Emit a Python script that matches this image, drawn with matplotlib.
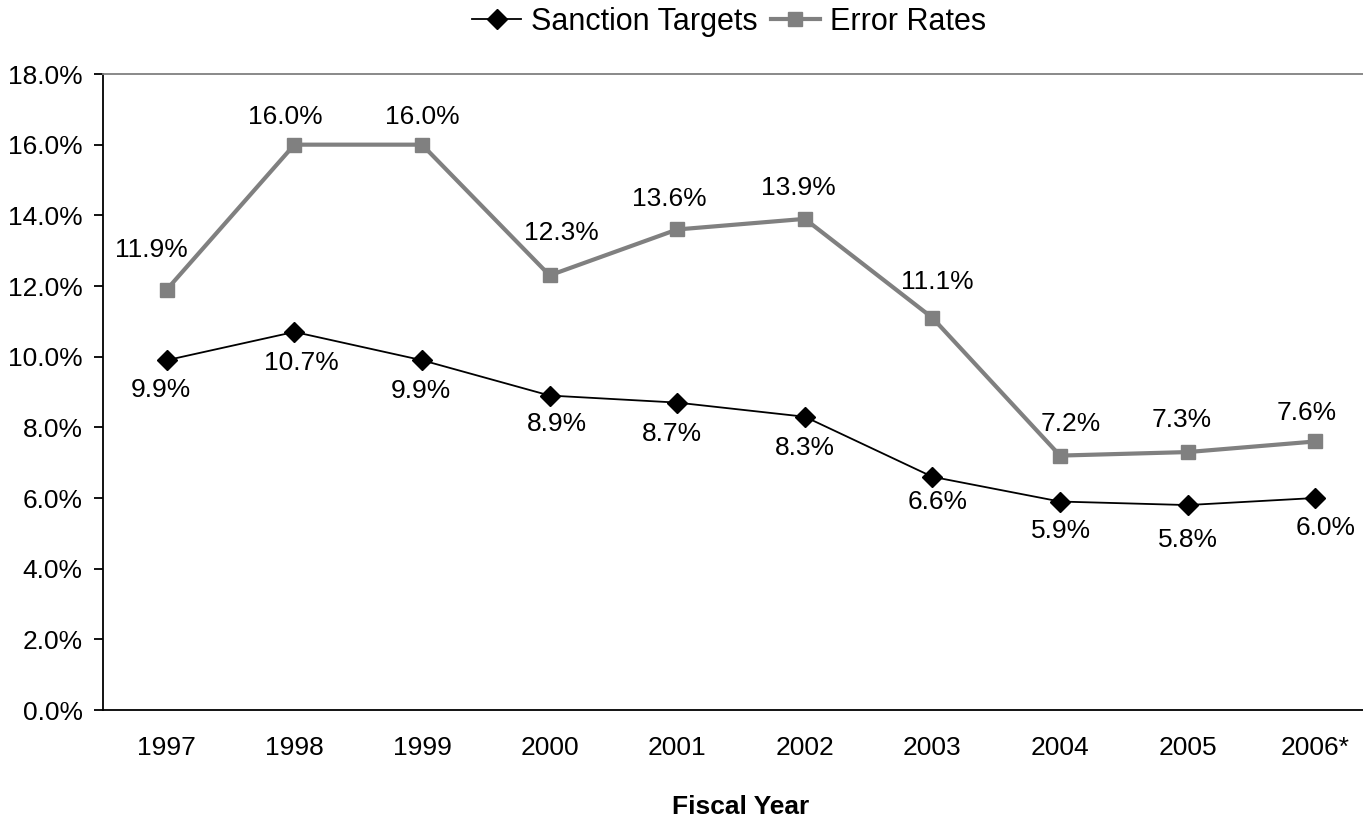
import matplotlib
matplotlib.use("Agg")
import matplotlib.pyplot as plt
from matplotlib.ticker import FuncFormatter

plt.rcParams['font.family'] = ['Liberation Sans', 'DejaVu Sans']

years = ['1997', '1998', '1999', '2000', '2001', '2002', '2003', '2004', '2005', '2006*']
sanction_targets = [9.9, 10.7, 9.9, 8.9, 8.7, 8.3, 6.6, 5.9, 5.8, 6.0]
error_rates = [11.9, 16.0, 16.0, 12.3, 13.6, 13.9, 11.1, 7.2, 7.3, 7.6]

# label offsets in pixels (dx, dy)
err_off = [(-15, 40), (-9, 28), (0, 28), (12, 42), (-8, 30), (-6, 31), (5, 36), (11, 32), (-6, 32), (-9, 28)]
san_off = [(-6, -30), (7, -31), (-1, -31), (7, -28), (-5, -31), (0, -31), (5, -25), (1, -29), (0, -35), (10, -30)]

fig = plt.figure(figsize=(13.63, 8.23), dpi=100)
ax = fig.add_axes([103/1363, 1-710/823, 1276/1363, 636/823])

x = list(range(len(years)))
ax.plot(x, sanction_targets, color='black', lw=1.3, marker='D', ms=10,
        label='Sanction Targets', zorder=3)
ax.plot(x, error_rates, color='#808080', lw=3, marker='s', ms=9.5,
        label='Error Rates', zorder=3)

for i, v in enumerate(error_rates):
    ax.annotate(f'{v:.1f}%', (i, v), xytext=err_off[i], textcoords='offset pixels',
                ha='center', va='center', fontsize=19)
for i, v in enumerate(sanction_targets):
    ax.annotate(f'{v:.1f}%', (i, v), xytext=san_off[i], textcoords='offset pixels',
                ha='center', va='center', fontsize=19)

ax.set_xlim(-0.5, len(years) - 0.5)
ax.set_ylim(0, 18)
ax.set_yticks([0, 2, 4, 6, 8, 10, 12, 14, 16, 18])
ax.yaxis.set_major_formatter(FuncFormatter(lambda v, p: f'{v:.1f}%'))
ax.set_xticks(x)
ax.set_xticklabels(years)
ax.tick_params(axis='y', length=6.5, width=1.3, labelsize=19, pad=8)
ax.tick_params(axis='x', length=0, labelsize=19, pad=19)

ax.spines['top'].set_color('#808080')
ax.spines['top'].set_linewidth(1.3)
ax.spines['right'].set_visible(False)
ax.spines['left'].set_linewidth(1.3)
ax.spines['bottom'].set_linewidth(1.3)

ax.set_xlabel('Fiscal Year', fontsize=19, fontweight='bold', labelpad=25)

fig.legend(loc='center', bbox_to_anchor=(729/1363, 1-22/823), ncol=2, frameon=False,
           fontsize=22, handlelength=1.6, handletextpad=0.33, columnspacing=0.43,
           borderpad=0, markerscale=1.0)

fig.savefig('out.png', dpi=100)
